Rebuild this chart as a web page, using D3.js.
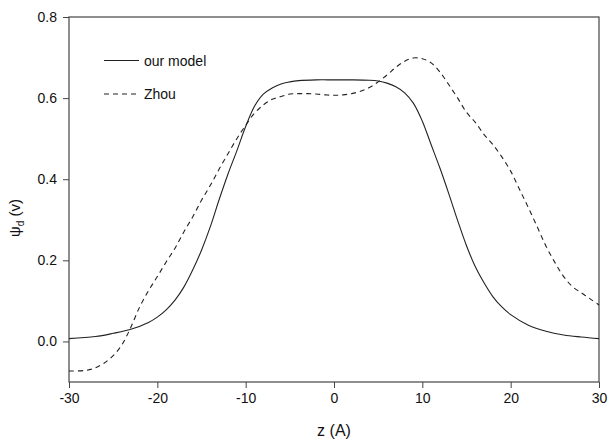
<!DOCTYPE html>
<meta charset="utf-8">
<title>psi_d profile</title>
<style>
  body { margin: 0; background: #fff; }
  svg { font-family: "Liberation Sans", Arial, sans-serif; }
  .axis path { display: none; }
  .axis line { stroke: #444; }
  .axis text { font-size: 14px; fill: #111; }
  .frame { fill: none; stroke: #444; stroke-width: 1.2px; }
  .curve { fill: none; stroke: #222; stroke-width: 1.1px; }
</style>
<body>
<script src="https://d3js.org/d3.v7.min.js"></script>
<script>
  // our model
  var modelZ = [-30, -27, -25, -23, -21, -20, -19, -18, -17, -16, -15, -14, -13, -12, -11, -10, -9, -8, -7, -6, -5, -4, -2, 0, 2, 4, 5, 6, 7, 8, 9, 10, 11, 12, 13, 14, 15, 16, 17, 18, 19, 20, 22, 24, 26, 28, 30];
  var modelV = [0.007, 0.012, 0.02, 0.03, 0.047, 0.06, 0.078, 0.102, 0.134, 0.176, 0.225, 0.283, 0.35, 0.413, 0.47, 0.53, 0.58, 0.61, 0.625, 0.635, 0.64, 0.643, 0.645, 0.645, 0.645, 0.644, 0.642, 0.637, 0.628, 0.613, 0.587, 0.543, 0.485, 0.427, 0.364, 0.298, 0.236, 0.184, 0.144, 0.11, 0.085, 0.066, 0.04, 0.025, 0.016, 0.011, 0.007];

  // Zhou
  var zhouZ = [-30, -28, -27, -26, -25, -24, -23, -22, -21, -20, -19, -18, -17, -16, -15, -14, -13, -12, -11, -10, -9, -8, -7, -6, -5, -4, -3, -2, -1, 0, 1, 2, 3, 4, 5, 6, 7, 8, 9, 10, 11, 12, 13, 14, 15, 16, 17, 18, 19, 20, 21, 22, 23, 24, 25, 26, 27, 28, 29, 30];
  var zhouV = [-0.073, -0.071, -0.065, -0.053, -0.035, -0.008, 0.035, 0.085, 0.125, 0.16, 0.196, 0.23, 0.27, 0.307, 0.348, 0.385, 0.425, 0.463, 0.5, 0.533, 0.563, 0.583, 0.597, 0.604, 0.61, 0.611, 0.611, 0.61, 0.608, 0.607, 0.608, 0.611, 0.617, 0.626, 0.64, 0.657, 0.676, 0.691, 0.699, 0.697, 0.687, 0.664, 0.633, 0.6, 0.565, 0.54, 0.51, 0.485, 0.455, 0.42, 0.375, 0.33, 0.283, 0.235, 0.195, 0.16, 0.135, 0.12, 0.105, 0.09];

  var xTicks = [-30, -20, -10, 0, 10, 20, 30];
  var yTicks = [0.0, 0.2, 0.4, 0.6, 0.8];

  var width = 614, height = 443;
  var margin = {left: 69, top: 17, right: 15, bottom: 61};

  var svg = d3.select("body").append("svg")
    .attr("width", width)
    .attr("height", height);

  var x = d3.scaleLinear().domain([-30, 30]).range([margin.left, width - margin.right]);
  var y = d3.scaleLinear().domain([-0.1, 0.8]).range([height - margin.bottom, margin.top]);

  svg.append("g").attr("class", "axis")
    .attr("transform", "translate(0," + (height - margin.bottom) + ")")
    .call(d3.axisBottom(x).tickValues(xTicks).tickFormat(d => String(d))
      .tickSize(6).tickSizeOuter(0).tickPadding(5));

  svg.append("g").attr("class", "axis")
    .attr("transform", "translate(" + margin.left + ",0)")
    .call(d3.axisLeft(y).tickValues(yTicks).tickFormat(d => d.toFixed(1))
      .tickSize(6).tickSizeOuter(0).tickPadding(6));

  svg.append("rect").attr("class", "frame")
    .attr("x", x(-30)).attr("y", y(0.8))
    .attr("width", x(30) - x(-30)).attr("height", y(-0.1) - y(0.8));

  var line = d3.line().x(d => x(d[0])).y(d => y(d[1])).curve(d3.curveCatmullRom.alpha(0.5));

  svg.append("path").attr("class", "curve")
    .attr("d", line(d3.zip(modelZ, modelV)));

  svg.append("path").attr("class", "curve")
    .attr("stroke-dasharray", "5,4")
    .attr("d", line(d3.zip(zhouZ, zhouV)));

  // legend
  var legend = [["our model", null, 60.5], ["Zhou", "5,4", 94]];
  legend.forEach(function(l) {
    svg.append("line").attr("class", "curve")
      .attr("x1", 104).attr("x2", 139).attr("y1", l[2]).attr("y2", l[2])
      .attr("stroke-dasharray", l[1]);
    svg.append("text").attr("x", 144).attr("y", l[2] + 5)
      .style("font-size", "14px").attr("fill", "#111").text(l[0]);
  });

  // axis titles
  svg.append("text")
    .attr("x", (x(-30) + x(30)) / 2).attr("y", 436)
    .attr("text-anchor", "middle").style("font-size", "16px").attr("fill", "#111")
    .text("z (A)");

  var yt = svg.append("text")
    .attr("transform", "translate(20," + 218 + ") rotate(-90)")
    .attr("text-anchor", "middle").style("font-size", "15px").attr("fill", "#111");
  yt.append("tspan").text("ψ");
  yt.append("tspan").attr("dy", 4).style("font-size", "10px").text("d");
  yt.append("tspan").attr("dy", -4).text(" (v)");
</script>
</body>
</html>
